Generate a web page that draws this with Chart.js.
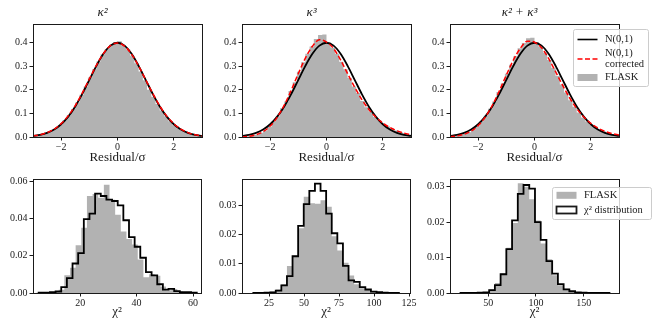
<!DOCTYPE html>
<html>
<head>
<meta charset="utf-8">
<script src="https://cdn.jsdelivr.net/npm/chart.js@4.4.0/dist/chart.umd.min.js"></script>
<style>
  body { margin: 0; background: #fff; width: 664px; height: 332px; position: relative; overflow: hidden; }
  .panel { position: absolute; }
</style>
</head>
<body>
<script>
// ---- values ----

// residual panels: curves sampled every 0.25
const resX = [-3, -2.75, -2.5, -2.25, -2, -1.75, -1.5, -1.25, -1, -0.75, -0.5, -0.25, 0,
              0.25, 0.5, 0.75, 1, 1.25, 1.5, 1.75, 2, 2.25, 2.5, 2.75, 3];
const normal = [0.0044, 0.0091, 0.0175, 0.0317, 0.0540, 0.0863, 0.1295, 0.1826, 0.2420, 0.3011, 0.3521, 0.3867, 0.3989,
                0.3867, 0.3521, 0.3011, 0.2420, 0.1826, 0.1295, 0.0863, 0.0540, 0.0317, 0.0175, 0.0091, 0.0044];
const corrK2 = [0.0046, 0.0095, 0.0185, 0.0335, 0.0565, 0.0895, 0.1330, 0.1860, 0.2455, 0.3035, 0.3530, 0.3865, 0.3975,
                0.3850, 0.3505, 0.3005, 0.2425, 0.1845, 0.1315, 0.0885, 0.0562, 0.0333, 0.0184, 0.0095, 0.0046];
const corrK3 = [0.0003, 0.0030, 0.0094, 0.0226, 0.0462, 0.0831, 0.1347, 0.1987, 0.2686, 0.3340, 0.3839, 0.4120, 0.4020,
                0.3750, 0.3260, 0.2680, 0.2105, 0.1593, 0.1172, 0.0843, 0.0591, 0.0402, 0.0264, 0.0166, 0.0099];
const corrK23 = [0.0013, 0.0045, 0.0114, 0.0249, 0.0481, 0.0839, 0.1334, 0.1947, 0.2620, 0.3258, 0.3760, 0.4057, 0.4012,
                 0.3780, 0.3325, 0.2763, 0.2184, 0.1651, 0.1203, 0.0848, 0.0578, 0.0381, 0.0242, 0.0147, 0.0085];

// FLASK residual histograms, 40 bins of 0.15 from -3
const resBinStart = -3;
const resBinWidth = 0.15;
const flaskResK2 = [0.006, 0.009, 0.013, 0.019, 0.028, 0.038, 0.052, 0.071, 0.092, 0.118, 0.146, 0.179, 0.214, 0.252, 0.287, 0.320, 0.350, 0.372, 0.390, 0.402,
                    0.405, 0.386, 0.370, 0.344, 0.312, 0.277, 0.240, 0.200, 0.170, 0.140, 0.112, 0.088, 0.067, 0.050, 0.036, 0.026, 0.018, 0.012, 0.008, 0.005];
const flaskResK3 = [0.001, 0.003, 0.006, 0.010, 0.018, 0.028, 0.043, 0.066, 0.088, 0.122, 0.150, 0.195, 0.232, 0.276, 0.316, 0.352, 0.383, 0.415, 0.432, 0.434,
                    0.398, 0.378, 0.352, 0.318, 0.287, 0.250, 0.214, 0.186, 0.152, 0.126, 0.108, 0.086, 0.071, 0.056, 0.045, 0.036, 0.027, 0.021, 0.016, 0.011];
const flaskResK23 = [0.002, 0.004, 0.008, 0.013, 0.020, 0.031, 0.046, 0.067, 0.090, 0.120, 0.150, 0.190, 0.226, 0.268, 0.306, 0.342, 0.376, 0.398, 0.418, 0.420,
                     0.400, 0.381, 0.358, 0.326, 0.292, 0.258, 0.222, 0.188, 0.156, 0.128, 0.104, 0.083, 0.066, 0.052, 0.040, 0.031, 0.023, 0.017, 0.012, 0.008];

// chi^2 panels
const chiK2Start = 5.3, chiK2Width = 2;
const chiK2Model = [0.0002, 0.0002, 0.0004, 0.0008, 0.0032, 0.0080, 0.0158, 0.0214, 0.0396, 0.0425, 0.0533, 0.0520, 0.0500, 0.0493,
                    0.0470, 0.0390, 0.0300, 0.0248, 0.0189, 0.0112, 0.0094, 0.0047, 0.0018, 0.0022, 0.0010, 0.0005, 0.0004, 0.0002];
const flaskChiK2Start = 4.4;
const flaskChiK2 = [0.0001, 0.0002, 0.0003, 0.0006, 0.0018, 0.0095, 0.0135, 0.0256, 0.0350, 0.0520, 0.0530, 0.0510, 0.0580, 0.0500,
                    0.0420, 0.0330, 0.0290, 0.0260, 0.0180, 0.0085, 0.0100, 0.0092, 0.0035, 0.0015, 0.0022, 0.0008, 0.0004];

const chiK3Start = 13.8, chiK3Width = 4;
const chiK3Model = [0.00005, 0.00005, 0.0001, 0.0002, 0.0008, 0.0026, 0.0058, 0.0126, 0.0230, 0.0305, 0.0350, 0.0375, 0.0350,
                    0.0272, 0.0205, 0.0170, 0.0093, 0.0043, 0.0038, 0.0020, 0.0012, 0.0005, 0.0003, 0.0001, 0.00005, 0.00003];
const flaskChiK3 = [0.00005, 0.0001, 0.0002, 0.0005, 0.0012, 0.0030, 0.0093, 0.0128, 0.0222, 0.0330, 0.0308, 0.0306, 0.0318,
                    0.0296, 0.0195, 0.0146, 0.0104, 0.0060, 0.0030, 0.0016, 0.0013, 0.0006, 0.0003, 0.0001, 0.00005, 0.00002];

const chiK23Start = 21, chiK23Width = 6;
const chiK23Model = [0.00003, 0.00003, 0.00005, 0.0001, 0.0002, 0.0008, 0.0022, 0.0053, 0.0124, 0.0205, 0.0280, 0.0305, 0.0295,
                     0.0200, 0.0150, 0.0090, 0.0055, 0.0025, 0.0010, 0.0005, 0.0002, 0.0001, 0.00005, 0.00003, 0.00002, 0.00001];
const flaskChiK23 = [0.00002, 0.00003, 0.00005, 0.0001, 0.0002, 0.0010, 0.0028, 0.0055, 0.0128, 0.0198, 0.0310, 0.0300, 0.0265,
                     0.0205, 0.0140, 0.0095, 0.0050, 0.0022, 0.0012, 0.0004, 0.0002, 0.0001, 0.00005, 0.00003, 0.00002, 0.00001];

// tick labels
const resTicks = [-2, 0, 2];
const resDensTicks = [0, 0.1, 0.2, 0.3, 0.4];
const chiK2Ticks = [20, 40, 60];
const chiK2DensTicks = [0, 0.02, 0.04, 0.06];
const chiK3Ticks = [25, 50, 75, 100, 125];
const chiK3DensTicks = [0, 0.01, 0.02, 0.03];
const chiK23Ticks = [50, 100, 150];
const chiK23DensTicks = [0, 0.01, 0.02, 0.03];

// ---- drawing ----
const FONT = "'Liberation Serif', 'Times New Roman', serif";
const INK = '#1a1a1a';
const GREY = '#b2b2b2';

function histPoints(start, width, values) {
    const pts = [{x: start, y: 0}];
    values.forEach((v, i) => pts.push({x: start + i * width, y: v}));
    const end = start + values.length * width;
    pts.push({x: end, y: values[values.length - 1]});
    pts.push({x: end, y: 0});
    return pts;
}

function curvePoints(xs, ys) {
    return xs.map((x, i) => ({x: x, y: ys[i]}));
}

const framePlugin = {
    id: 'frame',
    afterDatasetsDraw(chart) {
        const a = chart.chartArea, ctx = chart.ctx;
        ctx.save();
        ctx.strokeStyle = INK;
        ctx.lineWidth = 1;
        ctx.strokeRect(Math.round(a.left) + 0.5, Math.round(a.top) + 0.5,
                       Math.round(a.right - a.left), Math.round(a.bottom - a.top));
        ctx.restore();
    }
};

// matplotlib-like legend, box given in page pixels
function mplLegend(origin, box, items) {
    return {
        id: 'mplLegend',
        afterDraw(chart) {
            const ctx = chart.ctx;
            const x0 = box.x - origin.left, y0 = box.y - origin.top;
            ctx.save();
            ctx.beginPath();
            if (ctx.roundRect) ctx.roundRect(x0 + 0.5, y0 + 0.5, box.w, box.h, 2);
            else ctx.rect(x0 + 0.5, y0 + 0.5, box.w, box.h);
            ctx.fillStyle = 'rgba(255,255,255,0.8)';
            ctx.fill();
            ctx.strokeStyle = '#cccccc';
            ctx.lineWidth = 1;
            ctx.stroke();

            const hx = x0 + 4.5, hw = 20;
            items.forEach(it => {
                const hy = it.y - origin.top;
                ctx.setLineDash([]);
                if (it.kind === 'line' || it.kind === 'dash') {
                    ctx.beginPath();
                    ctx.strokeStyle = it.color;
                    ctx.lineWidth = 1.6;
                    if (it.kind === 'dash') ctx.setLineDash([5, 2.5]);
                    ctx.moveTo(hx, hy);
                    ctx.lineTo(hx + hw, hy);
                    ctx.stroke();
                } else if (it.kind === 'patch') {
                    ctx.fillStyle = GREY;
                    ctx.fillRect(hx, hy - 3.5, hw, 7);
                } else if (it.kind === 'box') {
                    ctx.fillStyle = '#fff';
                    ctx.fillRect(hx, hy - 3.5, hw, 7);
                    ctx.strokeStyle = INK;
                    ctx.lineWidth = 1.8;
                    ctx.strokeRect(hx, hy - 3.5, hw, 7);
                }
                ctx.setLineDash([]);
                ctx.fillStyle = INK;
                ctx.font = '10.5px ' + FONT;
                ctx.textBaseline = 'middle';
                ctx.textAlign = 'left';
                it.lines.forEach(l => ctx.fillText(l[0], x0 + 32, l[1] - origin.top));
            });
            ctx.restore();
        }
    };
}

function addPanel(p) {
    const div = document.createElement('div');
    div.className = 'panel';
    div.style.left = p.left + 'px';
    div.style.top = p.top + 'px';
    div.style.width = p.width + 'px';
    div.style.height = p.height + 'px';
    const canvas = document.createElement('canvas');
    div.appendChild(canvas);
    document.body.appendChild(div);

    const tickFont = {family: FONT, size: 10};
    const config = {
        type: 'line',
        data: {datasets: p.datasets},
        options: {
            animation: false,
            responsive: true,
            maintainAspectRatio: false,
            events: [],
            layout: {padding: {left: 0, top: p.padTop, right: p.width - 30 - p.areaWidth, bottom: 0}},
            plugins: {
                legend: {display: false},
                tooltip: {enabled: false},
                title: p.title ? {
                    display: true, text: p.title, color: INK,
                    font: {family: FONT, size: 13, style: 'italic', weight: 'normal'},
                    padding: {top: 2, bottom: 3}
                } : {display: false}
            },
            scales: {
                x: {
                    type: 'linear', min: p.xMin, max: p.xMax,
                    afterBuildTicks: s => { s.ticks = p.xTicks.map(v => ({value: v})); },
                    afterFit: s => { s.height = p.xHeight; },
                    ticks: {
                        callback: v => (v < 0 ? '\u2212' + (-v) : String(v)),
                        color: INK, font: tickFont, padding: 1,
                        maxRotation: 0, minRotation: 0, autoSkip: false
                    },
                    grid: {drawOnChartArea: false, tickLength: 3.5, tickColor: INK, tickWidth: 1},
                    border: {display: false},
                    title: {display: true, text: p.xTitle, color: INK, font: {family: FONT, size: 13}, padding: 0}
                },
                y: {
                    min: 0, max: p.yMax,
                    afterBuildTicks: s => { s.ticks = p.yTicks.map(v => ({value: v})); },
                    afterFit: s => { s.width = 30; },
                    ticks: {
                        callback: v => v.toFixed(p.yDigits),
                        color: INK, font: tickFont, padding: 2, autoSkip: false
                    },
                    grid: {drawOnChartArea: false, tickLength: 3.5, tickColor: INK, tickWidth: 1},
                    border: {display: false}
                }
            }
        },
        plugins: [framePlugin].concat(p.legend ? [p.legend] : [])
    };
    return new Chart(canvas, config);
}

function residualSets(corr, flask) {
    return [
        {data: curvePoints(resX, corr), borderColor: 'red', borderDash: [5, 2.5], borderWidth: 1.5,
         pointRadius: 0, cubicInterpolationMode: 'monotone', fill: false},
        {data: curvePoints(resX, normal), borderColor: '#000', borderWidth: 1.8,
         pointRadius: 0, cubicInterpolationMode: 'monotone', fill: false},
        {data: histPoints(resBinStart, resBinWidth, flask), stepped: 'before', borderWidth: 0,
         borderColor: 'rgba(0,0,0,0)', backgroundColor: GREY, fill: 'origin', pointRadius: 0}
    ];
}

function chiSets(mStart, width, model, fStart, flask) {
    return [
        {data: histPoints(mStart, width, model), stepped: 'before', borderColor: '#000', borderWidth: 1.8,
         pointRadius: 0, fill: false},
        {data: histPoints(fStart, width, flask), stepped: 'before', borderWidth: 0,
         borderColor: 'rgba(0,0,0,0)', backgroundColor: GREY, fill: 'origin', pointRadius: 0}
    ];
}

const topRow = {top: 3, height: 162, padTop: 0, xHeight: 28, xMin: -3, xMax: 3, yMax: 0.48,
                xTicks: resTicks, yTicks: resDensTicks, yDigits: 1, xTitle: 'Residual/\u03c3', areaWidth: 169};
const botRow = {top: 169, height: 150, padTop: 10, xHeight: 26, yDigits: 2, xTitle: '\u03c7\u00b2'};

addPanel(Object.assign({}, topRow, {left: 3, width: 211, title: '\u03ba\u00b2',
    datasets: residualSets(corrK2, flaskResK2)}));
addPanel(Object.assign({}, topRow, {left: 212, width: 211, title: '\u03ba\u00b3',
    datasets: residualSets(corrK3, flaskResK3)}));
addPanel(Object.assign({}, topRow, {left: 420, width: 244, title: '\u03ba\u00b2 + \u03ba\u00b3',
    datasets: residualSets(corrK23, flaskResK23),
    legend: mplLegend({left: 420, top: 3}, {x: 573, y: 29, w: 75, h: 57}, [
        {kind: 'line', color: '#000', y: 39.5, lines: [['N(0,1)', 39.5]]},
        {kind: 'dash', color: 'red', y: 59, lines: [['N(0,1)', 53.5], ['corrected', 64.5]]},
        {kind: 'patch', y: 77.5, lines: [['FLASK', 77.5]]}
    ])}));

addPanel(Object.assign({}, botRow, {left: 3, width: 210, areaWidth: 168, xMin: 3.3, xMax: 62.8, yMax: 0.0611,
    xTicks: chiK2Ticks, yTicks: chiK2DensTicks,
    datasets: chiSets(chiK2Start, chiK2Width, chiK2Model, flaskChiK2Start, flaskChiK2)}));
addPanel(Object.assign({}, botRow, {left: 212, width: 210, areaWidth: 168, xMin: 5.7, xMax: 125.7, yMax: 0.0391,
    xTicks: chiK3Ticks, yTicks: chiK3DensTicks,
    datasets: chiSets(chiK3Start, chiK3Width, chiK3Model, chiK3Start, flaskChiK3)}));
addPanel(Object.assign({}, botRow, {left: 420, width: 244, areaWidth: 169, xMin: 10, xMax: 187, yMax: 0.0322,
    xTicks: chiK23Ticks, yTicks: chiK23DensTicks,
    datasets: chiSets(chiK23Start, chiK23Width, chiK23Model, chiK23Start, flaskChiK23),
    legend: mplLegend({left: 420, top: 169}, {x: 552, y: 187, w: 99, h: 32}, [
        {kind: 'patch', y: 195.3, lines: [['FLASK', 195.3]]},
        {kind: 'box', y: 210, lines: [['\u03c7\u00b2 distribution', 210]]}
    ])}));
</script>
</body>
</html>
